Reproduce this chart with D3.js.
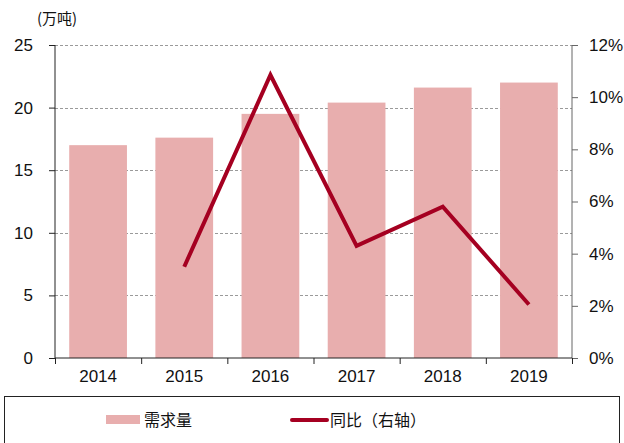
<!DOCTYPE html>
<html>
<head>
<meta charset="utf-8">
<script src="https://cdn.jsdelivr.net/npm/d3@7"></script>
<style>
  body { margin: 0; background: #fff; }
  svg text { font-family: "Liberation Sans", Arial, sans-serif; }
  .cjk { font-family: "Noto Sans CJK SC", sans-serif; }
</style>
</head>
<body>
<script>
// data
const years = ["2014", "2015", "2016", "2017", "2018", "2019"];
const demand = [17.0, 17.6, 19.5, 20.4, 21.6, 22.0];
const yoyYears = ["2015", "2016", "2017", "2018", "2019"];
const yoy = [3.5, 10.85, 4.3, 5.8, 2.05];
const leftTicks = [0, 5, 10, 15, 20, 25];
const rightTicks = [0, 2, 4, 6, 8, 10, 12];

const W = 624, H = 443;
const margin = { top: 45, right: 52, bottom: 85, left: 55 };
const width = 572 - margin.left;
const height = 358 - margin.top;

const svg = d3.select("body").append("svg")
  .attr("width", W).attr("height", H);

const g = svg.append("g")
  .attr("transform", `translate(${margin.left},${margin.top})`);

let x = d3.scaleBand().domain(years).range([0, width]).paddingInner(0.33).paddingOuter(0.165);
let xb = d3.scaleBand().domain(years).range([0, width]);
let y = d3.scaleLinear().domain([0, 25]).range([height, 0]);
let y2 = d3.scaleLinear().domain([0, 12]).range([height, 0]);

// dashed gridlines (behind the bars)
g.selectAll("line.grid").data(leftTicks.filter(t => t > 0)).enter().append("line")
  .attr("x1", 0).attr("x2", width)
  .attr("y1", d => Math.round(y(d)) + 0.5).attr("y2", d => Math.round(y(d)) + 0.5)
  .attr("stroke", "#9a9a9a")
  .attr("stroke-dasharray", "3,2");

// bars
g.selectAll("rect.bar").data(years).enter().append("rect")
  .attr("class", "bar")
  .attr("x", d => x(d))
  .attr("width", x.bandwidth())
  .attr("y", (d, i) => y(demand[i]))
  .attr("height", (d, i) => height - y(demand[i]))
  .attr("fill", "#E8AEAE");

// yoy line
let lines = d3.line()
  .x((d, i) => xb(yoyYears[i]) + xb.bandwidth() / 2)
  .y(d => y2(d));

g.append("path").datum(yoy)
  .attr("d", lines)
  .attr("fill", "none")
  .attr("stroke", "#A50021")
  .attr("stroke-width", 4)
  .attr("stroke-linejoin", "miter");

// left axis
const la = g.append("g").call(d3.axisLeft(y).tickValues(leftTicks).tickSize(6).tickPadding(16));
la.select(".domain").attr("stroke", "#222").attr("d", `M0,0V${height}`);
la.selectAll(".tick line").attr("stroke", "#222");
la.selectAll("text").style("font-size", "17px").attr("fill", "#111");

// right axis
const ra = g.append("g").attr("transform", `translate(${width},0)`)
  .call(d3.axisRight(y2).tickValues(rightTicks).tickSize(6).tickPadding(11).tickFormat(d => d + "%"));
ra.select(".domain").attr("stroke", "#666").attr("d", `M0,0V${height}`);
ra.selectAll(".tick line").attr("stroke", "#666");
ra.selectAll("text").style("font-size", "17px").attr("fill", "#111");

// bottom axis
const ba = g.append("g").attr("transform", `translate(0,${height})`)
  .call(d3.axisBottom(xb).tickSize(0).tickPadding(12));
ba.select(".domain").attr("stroke", "#222").attr("d", `M0,0H${width}`);
ba.selectAll("text").style("font-size", "17px").attr("fill", "#111");
ba.selectAll("line.sep").data(years.concat(["end"])).enter().append("line")
  .attr("class", "sep")
  .attr("x1", (d, i) => i * xb.bandwidth() + 0.5).attr("x2", (d, i) => i * xb.bandwidth() + 0.5)
  .attr("y1", 0).attr("y2", 6)
  .attr("stroke", "#222");

// unit label
svg.append("text")
  .attr("class", "cjk")
  .attr("x", 57).attr("y", 24)
  .attr("text-anchor", "middle")
  .style("font-size", "15px")
  .attr("fill", "#111")
  .text("(万吨)");

// legend
svg.append("rect")
  .attr("x", 4.5).attr("y", 396.5).attr("width", 615).attr("height", 50)
  .attr("fill", "none").attr("stroke", "#222");

svg.append("rect")
  .attr("x", 106).attr("y", 415).attr("width", 34).attr("height", 9)
  .attr("fill", "#E8AEAE");
svg.append("text").attr("class", "cjk")
  .attr("x", 144).attr("y", 426)
  .style("font-size", "16px").attr("fill", "#111")
  .text("需求量");

svg.append("line")
  .attr("x1", 292).attr("x2", 327).attr("y1", 420).attr("y2", 420)
  .attr("stroke", "#A50021").attr("stroke-width", 4).attr("stroke-linecap", "round");
svg.append("text").attr("class", "cjk")
  .attr("x", 330).attr("y", 426)
  .style("font-size", "16px").attr("fill", "#111")
  .text("同比（右轴）");
</script>
</body>
</html>
